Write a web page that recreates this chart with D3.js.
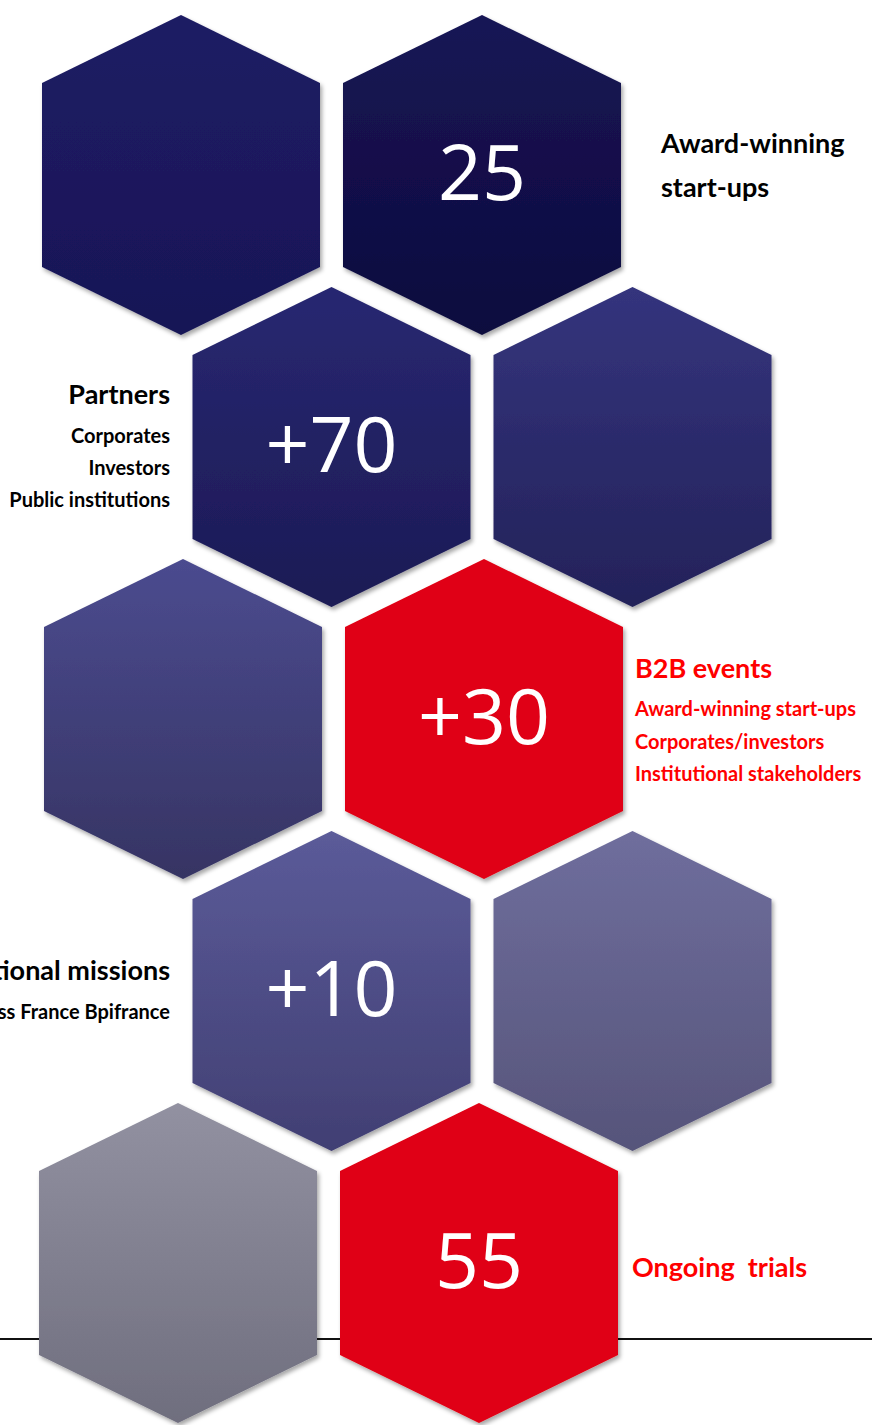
<!DOCTYPE html>
<html><head><meta charset="utf-8">
<script src="https://cdn.jsdelivr.net/npm/d3@7/dist/d3.min.js"></script>
<style>
html,body{margin:0;padding:0;background:#fff;}
svg{display:block;}
text{font-family:Lato,"Open Sans",sans-serif;white-space:pre;}
</style></head>
<body>
<svg id="c" width="872" height="1425"></svg>
<script>
// ---- data ----
const hexRows   = [0, 0, 1, 1, 2, 2, 3, 3, 4, 4];
const hexCols   = [0, 1, 0.5, 1.5, 0, 1, 0.5, 1.5, 0, 1];
const hexValues = ["", "25", "+70", "", "", "+30", "+10", "", "", "55"];
const hexTop    = ["#1e1c64", "#171555", "#282871", "#34347d", "#4b4b8f", "#e00012", "#5b5b99", "#6f6e9d", "#9291a1", "#e00012"];
const hexBottom = ["#181656", "#0d0b3e", "#1c1a55", "#232259", "#363463", "#e00012", "#413f73", "#56547a", "#6f6e7e", "#e00012"];

const labelTitles = ["Award-winning", "Partners", "B2B events", "International missions", "Ongoing  trials"];
const labelSubs = [
  ["start-ups"],
  ["Corporates", "Investors", "Public institutions"],
  ["Award-winning start-ups", "Corporates/investors", "Institutional stakeholders"],
  ["Business France Bpifrance"],
  []
];
const labelRows = [0, 1, 2, 3, 4];
const labelSide = ["right", "left", "right", "left", "right"];
const labelRed  = [false, false, true, false, true];

// ---- layout ----
const W = 872, H = 1425;
const svg = d3.select("#c");
const x = d3.scaleLinear().domain([0, 1]).range([181, 482]);
const y = d3.scaleLinear().domain([0, 4]).range([175, 1263]);
const rowShift = [0, 0, 2, 0, -3];
const hw = 139, hh = 160, sh = 92;
const hexPts = [[0,-hh],[hw,-sh],[hw,sh],[0,hh],[-hw,sh],[-hw,-sh]];

const defs = svg.append("defs");
const f = defs.append("filter").attr("id","sh").attr("x","-10%").attr("y","-10%").attr("width","130%").attr("height","130%");
f.append("feDropShadow").attr("dx",2).attr("dy",3).attr("stdDeviation",2.2).attr("flood-color","#000").attr("flood-opacity",0.35);

hexTop.forEach((c,i)=>{
  const g = defs.append("linearGradient").attr("id","g"+i).attr("x1",0).attr("y1",0).attr("x2",0).attr("y2",1);
  g.append("stop").attr("offset","0%").attr("stop-color", c);
  g.append("stop").attr("offset","100%").attr("stop-color", hexBottom[i]);
});

// baseline rule
svg.append("line").attr("x1",0).attr("x2",W).attr("y1",1339).attr("y2",1339)
  .attr("stroke","#111").attr("stroke-width",2);

const hexData = hexRows.map((r,i)=>({r, c:hexCols[i], v:hexValues[i], i}));
const line = d3.line();
const hg = svg.selectAll("g.hex").data(hexData).join("g").attr("class","hex")
  .attr("transform", d=>`translate(${x(d.c)+rowShift[d.r]},${y(d.r)})`);
hg.append("path").attr("d", line(hexPts) + "Z").attr("fill", d=>`url(#g${d.i})`).attr("filter","url(#sh)");
hg.filter(d=>d.v).append("text").text(d=>d.v)
  .attr("text-anchor","middle").attr("y", 25).attr("fill","#fff")
  .style("font-family","'Open Sans',sans-serif").style("font-size","77px").style("font-weight",400);

// labels
labelTitles.forEach((t,i)=>{
  const r = labelRows[i];
  const right = labelSide[i]==="right";
  const color = labelRed[i] ? "#ff0000" : "#000";
  const lx = right ? (r===4 ? 632 : (r===2 ? 635 : 661)) : 170;
  const anchor = right ? "start" : "end";
  const cy = y(r);
  let ty, subY, subSize, step;
  if (i===0){ ty = cy-22; subSize = 27; subY = cy+22; step = 44; }
  else if (i===1){ ty = cy-43; subSize = 20; subY = cy-4; step = 32; }
  else if (i===2){ ty = cy-41; subSize = 20; subY = cy-3; step = 32.5; }
  else if (i===3){ ty = cy-11; subSize = 20; subY = cy+28; step = 32; }
  else { ty = cy+14; subSize = 20; subY = 0; step = 0; }
  svg.append("text").attr("x",lx).attr("y",ty).attr("text-anchor",anchor)
    .attr("fill",color).style("font-size","27px").style("font-weight",700).text(t);
  labelSubs[i].forEach((s,k)=>{
    svg.append("text").attr("x",lx).attr("y",subY+k*step).attr("text-anchor",anchor)
      .attr("fill",color).style("font-size", subSize+"px").style("font-weight",700).text(s);
  });
});
</script>
</body></html>
